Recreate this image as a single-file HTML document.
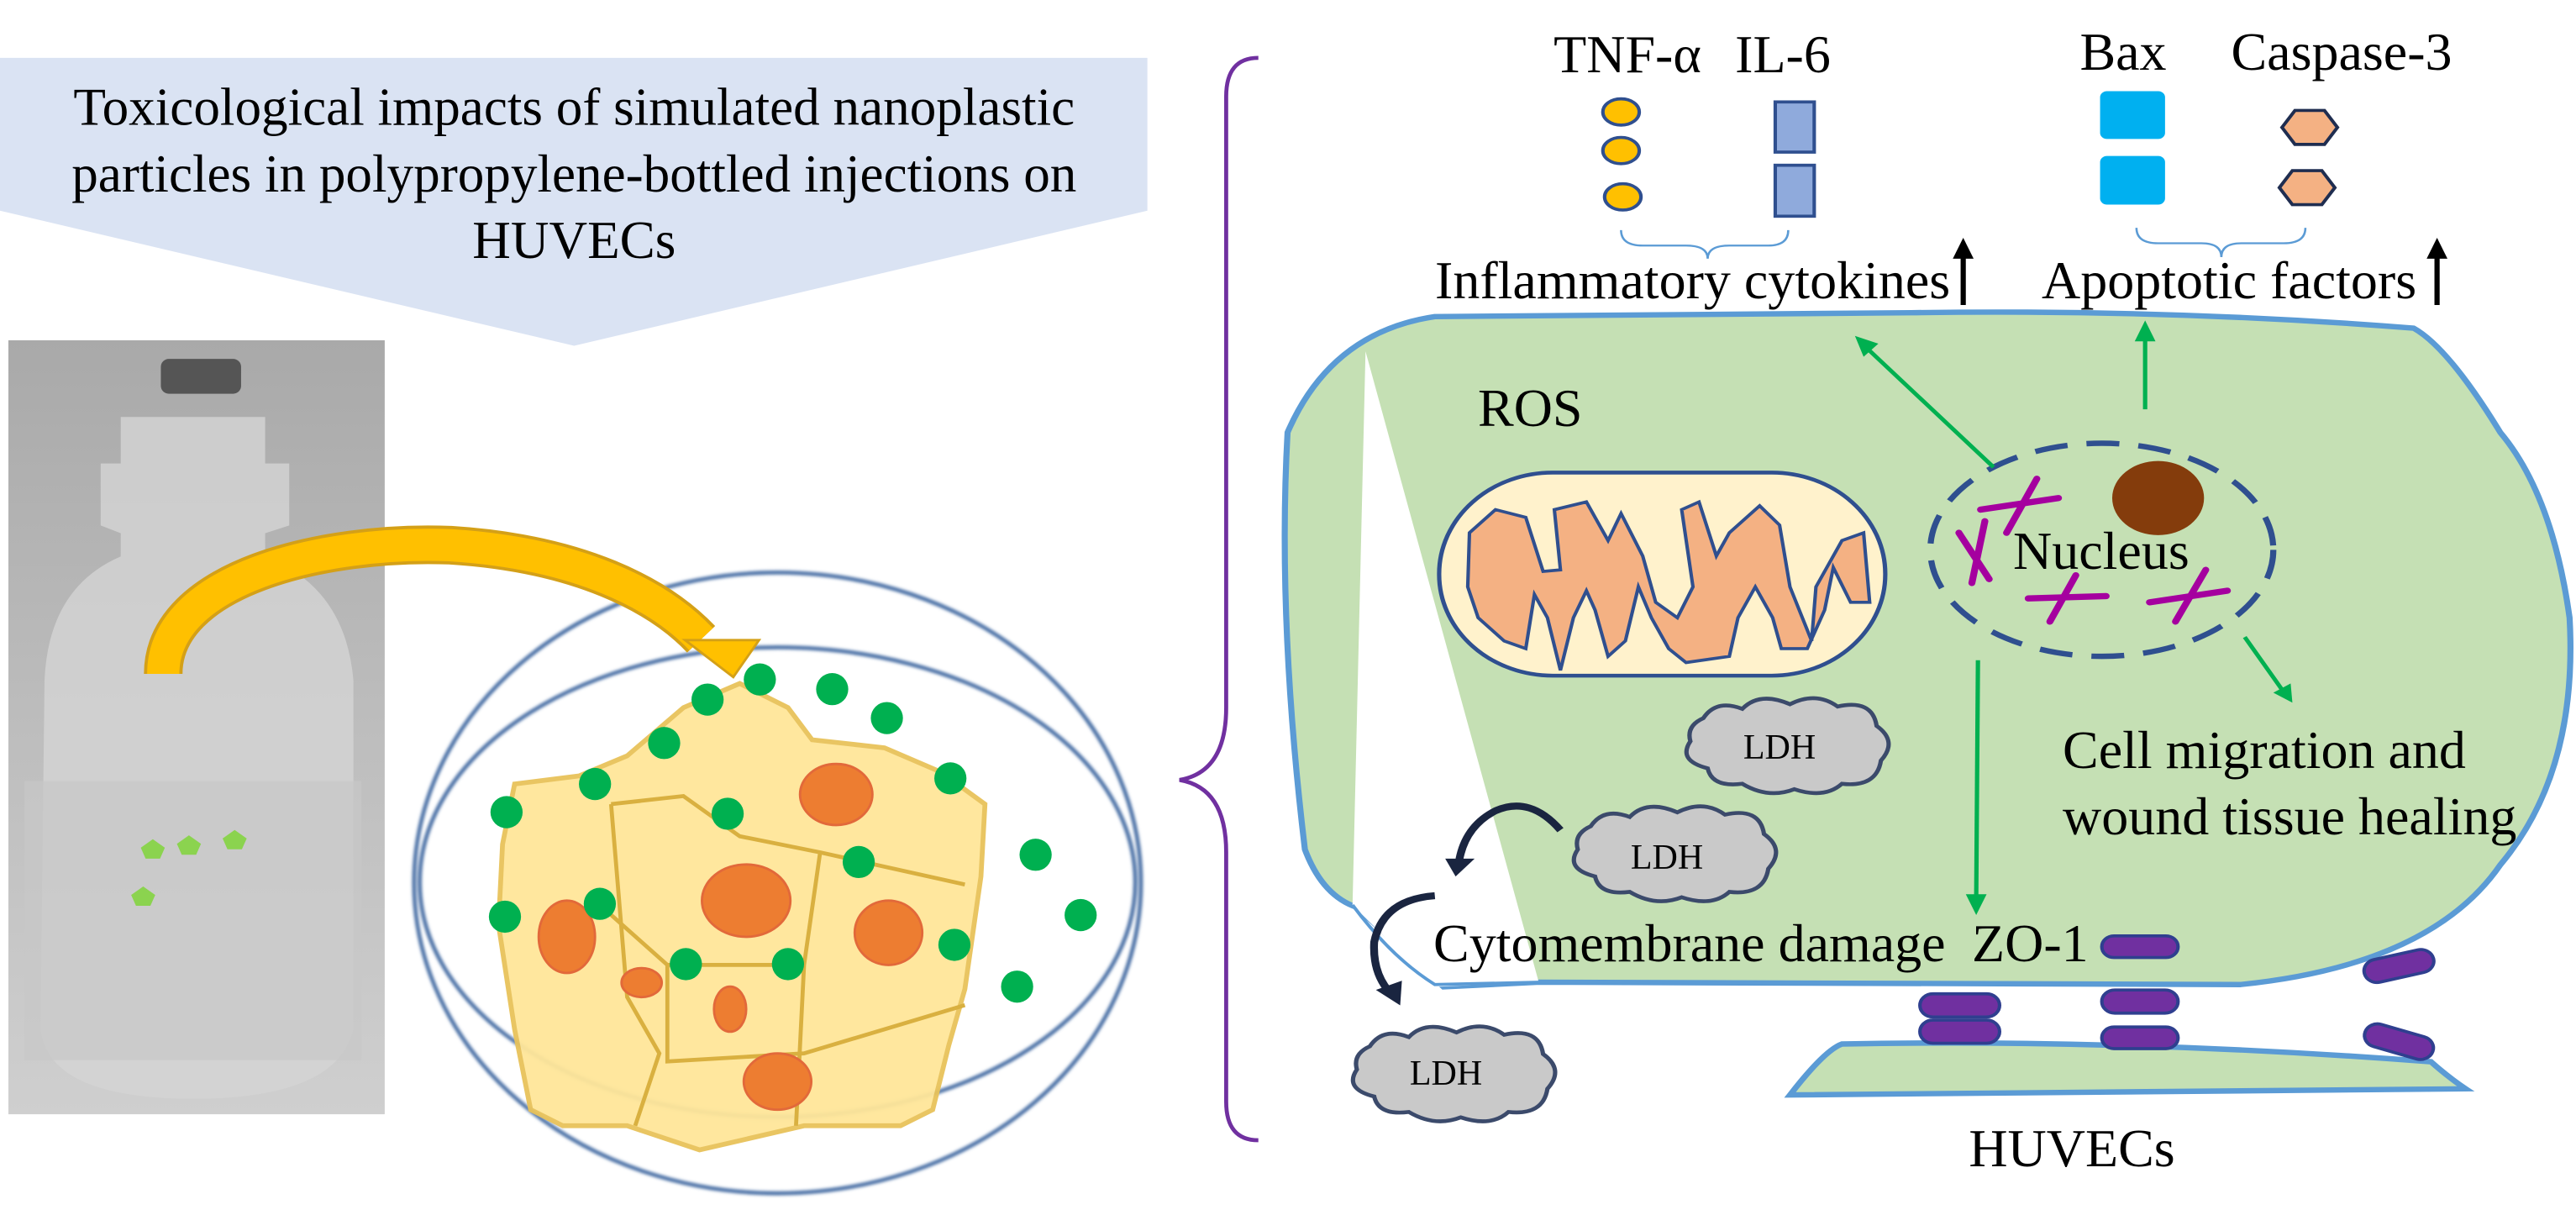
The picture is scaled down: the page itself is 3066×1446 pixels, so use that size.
<!DOCTYPE html>
<html><head><meta charset="utf-8"><style>
html,body{margin:0;padding:0;background:#fff;}
svg{display:block;font-family:"Liberation Serif",serif;}
</style></head><body>
<svg width="3066" height="1446" viewBox="0 0 3066 1446" xmlns="http://www.w3.org/2000/svg">
<defs>
<linearGradient id="bg" x1="0" y1="0" x2="0" y2="1">
<stop offset="0" stop-color="#a9a9a9"/><stop offset="0.5" stop-color="#bdbdbd"/><stop offset="1" stop-color="#cfcfcf"/>
</linearGradient>
<filter id="bl"><feGaussianBlur stdDeviation="2"/></filter>
</defs>
<g transform="translate(10,405) scale(0.955,0.922) translate(-10,-441)">
<rect x="10" y="441" width="469" height="999" fill="url(#bg)"/>
<path d="M150,540 L150,600 L125,600 L125,680 L150,690 L150,720 Q60,760 55,880 L50,1330 Q60,1420 240,1420 Q420,1420 440,1330 L440,880 Q430,760 330,720 L330,690 L360,680 L360,600 L330,600 L330,540 Z" fill="#d4d4d4" opacity="0.8"/>
<rect x="200" y="465" width="100" height="45" rx="10" fill="#555"/>
<rect x="30" y="1010" width="420" height="360" fill="#c8c8c8" opacity="0.7"/>
<g fill="#8bd34f">
<polygon points="190,1085 205,1096 199,1110 181,1110 175,1096"/>
<polygon points="235,1080 250,1091 244,1105 226,1105 220,1091"/>
<polygon points="292,1073 307,1084 301,1098 283,1098 277,1084"/>
<polygon points="178,1146 193,1157 187,1171 169,1171 163,1157"/>
</g>
</g>
<g transform="scale(0.957)">
<polygon points="0,72 1427,72 1427,262 714,430 0,262" fill="#dae3f3"/>
<text x="714" y="155" font-size="66" text-anchor="middle">Toxicological impacts of simulated nanoplastic</text>
<text x="714" y="238" font-size="66" text-anchor="middle">particles in polypropylene-bottled injections on</text>
<text x="714" y="321" font-size="66" text-anchor="middle">HUVECs</text>
<g filter="url(#bl)" fill="none" stroke="#4a6fa5" stroke-width="5">
<ellipse cx="967" cy="1098" rx="452" ry="386"/>
<ellipse cx="967" cy="1097" rx="445" ry="292"/>
</g>
<path d="M640,975 L720,965 L780,940 L850,880 L920,850 L980,880 L1010,920 L1100,930 L1170,960 L1225,1000 L1220,1090 L1200,1230 L1180,1300 L1160,1380 L1120,1400 L1000,1400 L870,1430 L780,1400 L700,1400 L660,1380 L640,1280 L620,1150 L625,1050 Z" fill="#ffe699" stroke="#e8c25a" stroke-width="6" opacity="0.95"/>
<g fill="none" stroke="#d9b040" stroke-width="5">
<path d="M760,1000 L780,1240 L820,1310 L790,1400"/>
<path d="M760,1000 L850,990 L920,1040 L1020,1060 L1200,1100"/>
<path d="M1020,1060 L1000,1200 L990,1400"/>
<path d="M740,1120 L830,1200 L980,1200"/>
<path d="M830,1200 L830,1320 L1000,1310 L1200,1250"/>
</g>
<g fill="#ed7d31" stroke="#e2693a" stroke-width="3">
<ellipse cx="1040" cy="988" rx="45" ry="38"/><ellipse cx="928" cy="1120" rx="55" ry="45"/>
<ellipse cx="1105" cy="1160" rx="42" ry="40"/><ellipse cx="705" cy="1165" rx="35" ry="45"/>
<ellipse cx="798" cy="1222" rx="25" ry="18"/><ellipse cx="908" cy="1255" rx="20" ry="28"/>
<ellipse cx="967" cy="1345" rx="42" ry="35"/>
</g>
<g fill="#00b050">
<circle cx="945" cy="845" r="20"/><circle cx="880" cy="870" r="20"/><circle cx="1035" cy="857" r="20"/><circle cx="1103" cy="893" r="20"/><circle cx="826" cy="924" r="20"/><circle cx="740" cy="975" r="20"/><circle cx="630" cy="1010" r="20"/><circle cx="905" cy="1012" r="20"/><circle cx="1182" cy="968" r="20"/><circle cx="1068" cy="1072" r="20"/><circle cx="1288" cy="1063" r="20"/><circle cx="628" cy="1140" r="20"/><circle cx="746" cy="1124" r="20"/><circle cx="1344" cy="1138" r="20"/><circle cx="853" cy="1199" r="20"/><circle cx="980" cy="1199" r="20"/><circle cx="1187" cy="1175" r="20"/><circle cx="1265" cy="1227" r="20"/>
</g>
<path d="M203,838 C203,720 400,672 560,678 C720,688 820,740 872,795" fill="none" stroke="#d4a017" stroke-width="48"/>
<path d="M203,838 C203,720 400,672 560,678 C720,688 820,740 872,795" fill="none" stroke="#ffc000" stroke-width="40"/>
<polygon points="852,796 944,796 912,842" fill="#ffc000" stroke="#d4a017" stroke-width="3"/>
<path d="M1565,72 Q1525,72 1525,120 L1525,880 Q1525,960 1467,970 Q1525,980 1525,1060 L1525,1370 Q1525,1418 1565,1418" fill="none" stroke="#7030a0" stroke-width="5"/>
</g>
<g transform="translate(1450,0) scale(1.031,0.919)">
<g fill="#ffc000" stroke="#2f4f8f" stroke-width="4">
<ellipse cx="465" cy="145" rx="21" ry="17"/><ellipse cx="465" cy="195" rx="21" ry="17"/><ellipse cx="467" cy="255" rx="21" ry="17"/>
</g>
<g fill="#8faadc" stroke="#2f4f8f" stroke-width="4">
<rect x="643" y="132" width="45" height="65"/><rect x="643" y="214" width="45" height="66"/>
</g>
<g fill="#00b0f0"><rect x="1018" y="118" width="75" height="62" rx="8"/><rect x="1018" y="202" width="75" height="63" rx="8"/></g>
<g fill="#f4b183" stroke="#1f2d50" stroke-width="4">
<polygon points="1228,165 1243,143 1277,143 1292,165 1277,187 1243,187"/>
<polygon points="1225,243 1240,221 1274,221 1289,243 1274,265 1240,265"/>
</g>
<path d="M465,298 Q465,318 490,318 L540,318 Q565,318 565,335 Q565,318 590,318 L635,318 Q658,318 658,298" fill="none" stroke="#5b9bd5" stroke-width="2.5"/>
<path d="M1060,295 Q1060,315 1085,315 L1135,315 Q1158,315 1158,333 Q1158,315 1181,315 L1230,315 Q1255,315 1255,295" fill="none" stroke="#5b9bd5" stroke-width="2.5"/>
<g stroke="#000" stroke-width="6"><line x1="860" y1="395" x2="860" y2="330"/><line x1="1407" y1="395" x2="1407" y2="330"/><line x1="462" y1="575" x2="462" y2="510"/><line x1="1530" y1="955" x2="1530" y2="1008"/><line x1="1145" y1="1185" x2="1145" y2="1230"/></g>
<g fill="#000"><polygon points="848,335 872,335 860,308"/><polygon points="1395,335 1419,335 1407,308"/><polygon points="450,515 474,515 462,488"/><polygon points="1518,1003 1542,1003 1530,1030"/><polygon points="1133,1225 1157,1225 1145,1252"/></g>
<path d="M80,560 Q68,800 100,1100 Q120,1160 160,1175 L260,1278 L370,1272 L1180,1275 Q1400,1250 1480,1120 Q1570,1000 1560,800 Q1540,640 1480,560 Q1420,450 1380,425 Q1100,400 800,405 L250,410 Q130,430 80,560 Z" fill="#c5e0b4" stroke="#5b9bd5" stroke-width="7"/>
<polygon points="170,455 155,1172 250,1278 370,1272" fill="#fff"/>
<path d="M155,1172 Q200,1240 250,1275 L370,1272" fill="none" stroke="#5b9bd5" stroke-width="4"/>
<rect x="255" y="612" width="515" height="263" rx="131" fill="#fff2cc" stroke="#2f4f8f" stroke-width="5"/>
<path d="M290,690 L320,660 L355,670 L375,740 L395,738 L388,660 L425,650 L450,700 L465,665 L490,720 L505,780 L530,800 L548,760 L535,660 L555,650 L575,720 L590,690 L625,655 L648,680 L660,760 L685,830 L690,760 L720,700 L745,690 L752,780 L730,780 L710,735 L700,790 L680,840 L650,840 L640,800 L620,760 L600,800 L590,850 L540,858 L520,840 L500,800 L485,760 L470,830 L450,850 L435,790 L425,765 L410,800 L395,868 L380,800 L365,770 L355,840 L330,830 L300,800 L288,760 Z" fill="#f4b183" stroke="#2f4f8f" stroke-width="4"/>
<ellipse cx="1020" cy="712" rx="198" ry="138" fill="none" stroke="#2f4f8f" stroke-width="7" stroke-dasharray="38,22"/>
<ellipse cx="1085" cy="645" rx="53" ry="48" fill="#843c0c"/>
<g stroke="#a5009f" stroke-width="8" stroke-linecap="round" fill="none">
<path d="M880,660 L970,645"/><path d="M945,620 L910,690"/>
<path d="M855,690 L890,750"/><path d="M885,675 L870,755"/>
<path d="M935,775 L1025,772"/><path d="M990,745 L960,805"/>
<path d="M1075,780 L1165,765"/><path d="M1140,738 L1105,805"/>
</g>
<g stroke="#00b050" stroke-width="5"><line x1="895" y1="605" x2="748" y2="450"/><line x1="1070" y1="530" x2="1070" y2="438"/><line x1="1185" y1="825" x2="1228" y2="893"/><line x1="877" y1="855" x2="875" y2="1165"/></g>
<g fill="#00b050"><polygon points="735,435 762,445 745,462"/><polygon points="1070,415 1058,442 1082,442"/><polygon points="1240,910 1218,897 1238,885"/><polygon points="875,1185 863,1158 887,1158"/></g>
<g fill="#c9c9c9" stroke="#3b4a6b" stroke-width="5">
<path d="M560,930 Q575,905 605,918 Q625,895 660,912 Q690,895 715,915 Q755,905 760,940 Q785,960 765,985 Q760,1020 720,1015 Q700,1035 665,1022 Q635,1035 605,1015 Q570,1020 565,995 Q530,985 545,960 Q540,940 560,930 Z"/>
<path d="M430,1070 Q445,1045 475,1058 Q495,1035 530,1052 Q560,1035 585,1055 Q625,1045 630,1080 Q655,1100 635,1125 Q630,1160 590,1155 Q570,1175 535,1162 Q505,1175 475,1155 Q440,1160 435,1135 Q400,1125 415,1100 Q410,1080 430,1070 Z"/>
<path d="M175,1355 Q190,1330 220,1343 Q240,1320 275,1337 Q305,1320 330,1340 Q370,1330 375,1365 Q400,1385 380,1410 Q375,1445 335,1440 Q315,1460 280,1447 Q250,1460 220,1440 Q185,1445 180,1420 Q145,1410 160,1385 Q155,1365 175,1355 Z"/>
</g>
<g fill="none" stroke="#1a2540" stroke-width="9">
<path d="M395,1075 Q360,1030 320,1050 Q285,1070 278,1115"/>
<path d="M250,1160 Q190,1165 180,1220 Q178,1260 198,1285"/>
</g>
<g fill="#1a2540"><polygon points="262,1112 296,1112 274,1135"/><polygon points="182,1282 212,1270 210,1302"/></g>
<path d="M660,1418 Q700,1360 720,1352 Q1050,1345 1400,1375 Q1420,1395 1440,1410 Z" fill="#c5e0b4" stroke="#5b9bd5" stroke-width="7"/>
<g fill="#7030a0" stroke="#2f3f8f" stroke-width="4">
<rect x="1020" y="1212" width="88" height="28" rx="14"/>
<rect x="810" y="1287" width="92" height="30" rx="15"/><rect x="810" y="1321" width="92" height="30" rx="15"/>
<rect x="1020" y="1282" width="88" height="30" rx="15"/><rect x="1020" y="1330" width="88" height="28" rx="14"/>
<rect x="1322" y="1236" width="82" height="30" rx="15" transform="rotate(-14 1363 1251)"/>
<rect x="1322" y="1334" width="82" height="30" rx="15" transform="rotate(18 1363 1349)"/>
</g>
</g>
<g font-size="64" fill="#000">
<text x="1937" y="86" text-anchor="middle">TNF-α</text>
<text x="2122" y="86" text-anchor="middle">IL-6</text>
<text x="2527" y="83" text-anchor="middle">Bax</text>
<text x="2787" y="83" text-anchor="middle">Caspase-3</text>
<text x="1708" y="355">Inflammatory cytokines</text>
<text x="2430" y="355">Apoptotic factors</text>
<text x="1759" y="507">ROS</text>
<text x="2396" y="677">Nucleus</text>
<text x="1706" y="1144">Cytomembrane damage</text>
<text x="2347" y="1144">ZO-1</text>
<text x="2455" y="914">Cell migration and</text>
<text x="2455" y="993">wound tissue healing</text>
<text x="2466" y="1388" text-anchor="middle">HUVECs</text>
</g>
<g font-size="42" text-anchor="middle" fill="#000">
<text x="2118" y="903">LDH</text><text x="1984" y="1034">LDH</text><text x="1721" y="1291">LDH</text>
</g>
</svg>
</body></html>
